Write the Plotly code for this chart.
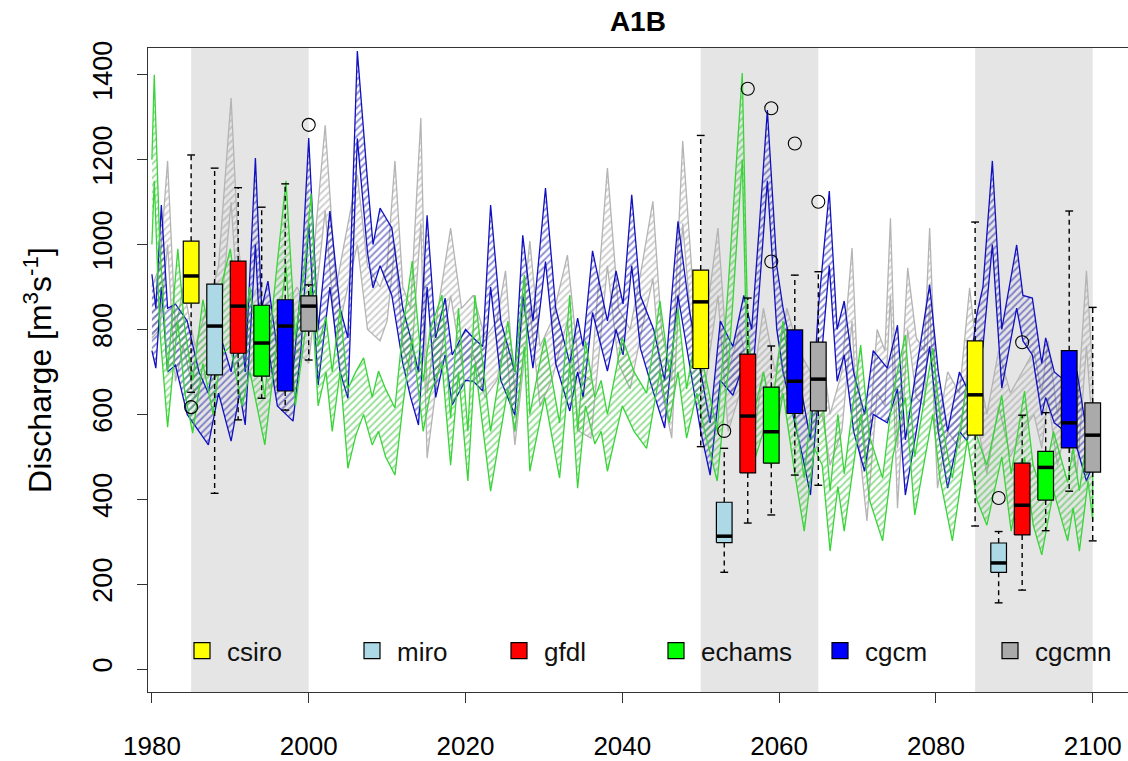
import plotly.graph_objects as go

# ---------------- data ----------------
models = ["csiro", "miro", "gfdl", "echams", "cgcm", "cgcmn"]
box_colors = ["#FFFF00", "#ADD8E6", "#FF0000", "#00FF00", "#0000FF", "#AAAAAA"]

period_start = [1985, 2050, 2085]
period_end = [2000, 2065, 2100]
box_offset = [0, 3, 6, 9, 12, 15]

# rows = models, columns = periods
whisker_low = [[652, 524, 337], [414, 228, 156], [587, 344, 186],
               [638, 363, 326], [610, 457, 419], [728, 433, 302]]
q1 = [[862, 708, 551], [693, 298, 228], [744, 462, 316],
      [690, 485, 398], [655, 602, 521], [796, 608, 464]]
median = [[926, 865, 646], [808, 313, 250], [855, 596, 386],
          [768, 559, 475], [808, 678, 580], [855, 683, 551]]
q3 = [[1008, 940, 773], [907, 393, 297], [961, 742, 485],
      [857, 664, 513], [870, 799, 750], [879, 770, 627]]
whisker_high = [[1211, 1257, 1053], [1180, 520, 324], [1134, 874, 598],
                [1088, 761, 604], [1143, 928, 1079], [905, 936, 852]]
outlier_model = ["csiro", "cgcmn", "miro", "gfdl", "echams", "echams", "cgcm", "cgcmn", "miro", "gfdl"]
outlier_period = [0, 0, 1, 1, 1, 1, 1, 1, 2, 2]
outlier_value = [617, 1282, 561, 1367, 1321, 960, 1238, 1101, 403, 770]

# hatched envelopes of the model runs
echams_years = [1980.0, 1980.3, 1981.0, 1982.0, 1983.3, 1984.2, 1985.2, 1986.5, 1987.8, 1988.8,
                1990.0, 1991.5, 1992.5, 1994.4, 1995.5, 1997.1, 1998.3, 1999.6, 2000.3, 2001.2,
                2002.2, 2003.0, 2004.0, 2005.0, 2006.0, 2007.0, 2008.1, 2008.9, 2009.8, 2011.0,
                2012.0, 2013.2, 2014.6, 2015.5, 2017.0, 2018.1, 2019.1, 2020.3, 2021.2, 2023.2,
                2025.4, 2026.3, 2027.5, 2028.2, 2030.1, 2032.0, 2033.3, 2034.3, 2035.3, 2036.5,
                2037.3, 2038.1, 2040.0, 2041.5, 2043.1, 2044.8, 2046.0, 2047.1, 2048.2, 2049.5,
                2050.5, 2052.1, 2053.5, 2055.3, 2056.0, 2057.0, 2058.0, 2059.0, 2060.5, 2062.0,
                2063.2, 2064.5, 2065.5, 2066.5, 2067.5, 2068.3, 2070.4, 2071.5, 2073.2, 2074.5,
                2076.1, 2077.3, 2079.6, 2080.5, 2082.1, 2084.0, 2085.2, 2086.5, 2088.4, 2089.6,
                2091.3, 2092.4, 2093.5, 2095.0, 2096.8, 2097.5, 2098.3, 2099.4, 2100.0]
echams_upper = [1200, 1400, 1000, 700, 990, 800, 680, 870, 750, 900,
                990, 780, 900, 640, 870, 1150, 780, 970, 1120, 760,
                830, 700, 850, 660, 700, 733, 640, 702, 660, 615,
                800, 961, 678, 800, 881, 591, 850, 560, 881, 560,
                820, 700, 928, 600, 780, 580, 881, 560, 773, 640,
                680, 600, 780, 700, 650, 867, 700, 850, 660, 800,
                700, 560, 900, 1404, 800, 620, 700, 600, 820, 600,
                450, 700, 650, 420, 600, 460, 763, 550, 450, 650,
                787, 500, 756, 600, 450, 678, 550, 480, 645, 460,
                655, 480, 420, 560, 440, 520, 420, 560, 480]
echams_lower = [1000, 1150, 800, 570, 820, 650, 556, 720, 600, 740,
                760, 620, 700, 528, 700, 950, 620, 800, 900, 620,
                700, 560, 700, 473, 550, 600, 528, 560, 500, 457,
                620, 780, 560, 650, 720, 480, 700, 443, 720, 419,
                660, 560, 760, 466, 640, 450, 720, 426, 620, 530,
                560, 466, 620, 560, 520, 700, 580, 700, 544, 650,
                560, 443, 700, 1200, 640, 500, 560, 480, 650, 460,
                325, 520, 480, 278, 430, 325, 600, 400, 302, 500,
                640, 363, 600, 450, 302, 540, 400, 339, 500, 325,
                500, 340, 269, 420, 302, 380, 278, 443, 350]

cgcm_years = [1980.0, 1980.5, 1981.2, 1982.0, 1983.0, 1984.5, 1986.0, 1987.2, 1988.5, 1990.1,
              1991.2, 1991.9, 1993.2, 1994.0, 1994.8, 1996.0, 1998.0, 1999.0, 2000.0, 2001.2,
              2002.7, 2004.0, 2005.0, 2006.2, 2007.5, 2008.2, 2009.1, 2010.6, 2012.0, 2013.0,
              2014.0, 2015.1, 2016.2, 2017.4, 2018.3, 2020.0, 2021.0, 2022.2, 2023.2, 2024.5,
              2026.3, 2027.3, 2028.6, 2030.2, 2031.5, 2033.3, 2034.3, 2035.0, 2036.2, 2038.1,
              2039.2, 2040.1, 2041.2, 2042.3, 2044.0, 2045.4, 2047.1, 2048.6, 2050.0, 2051.2,
              2052.5, 2054.1, 2055.5, 2056.5, 2057.5, 2058.5, 2059.7, 2060.5, 2062.0, 2063.0,
              2064.0, 2065.0, 2066.4, 2067.4, 2068.3, 2069.5, 2070.9, 2072.0, 2073.8, 2075.1,
              2076.1, 2077.5, 2079.2, 2080.3, 2081.5, 2083.0, 2084.0, 2085.2, 2086.0, 2087.2,
              2088.4, 2090.3, 2091.1, 2092.3, 2093.5, 2094.0, 2095.1, 2096.4, 2098.0, 2099.2,
              2100.0]
cgcm_upper = [930, 850, 1093, 850, 860, 820, 700, 650, 800, 700,
              850, 700, 1204, 850, 914, 750, 700, 900, 1251, 800,
              1079, 850, 780, 1456, 1150, 1000, 1086, 1039, 850, 780,
              700, 1069, 780, 874, 740, 800, 780, 760, 1093, 820,
              700, 1022, 820, 1133, 850, 720, 827, 760, 985, 820,
              938, 860, 1117, 880, 800, 680, 1055, 840, 700, 580,
              820, 760, 880, 800, 1050, 1317, 950, 850, 720, 640,
              540, 850, 1126, 800, 867, 700, 600, 750, 709, 810,
              540, 700, 905, 700, 560, 700, 660, 834, 900, 1197,
              800, 999, 880, 874, 720, 780, 700, 680, 700, 560,
              600]
cgcm_lower = [750, 709, 900, 700, 716, 600, 560, 528, 650, 537,
              650, 575, 1000, 700, 760, 620, 584, 750, 1050, 669,
              900, 700, 638, 1250, 980, 898, 950, 880, 720, 640,
              575, 900, 640, 740, 622, 680, 678, 655, 900, 680,
              598, 880, 709, 960, 720, 608, 700, 640, 840, 702,
              800, 740, 950, 756, 650, 568, 880, 716, 560, 457,
              680, 645, 720, 660, 900, 1150, 800, 700, 580, 500,
              410, 650, 950, 678, 740, 560, 466, 600, 580, 660,
              410, 560, 760, 560, 426, 560, 537, 700, 760, 1000,
              662, 850, 773, 740, 598, 640, 580, 561, 520, 443,
              480]

cgcmn_years = [1980.0, 1981.0, 1982.0, 1983.0, 1984.0, 1985.5, 1987.0, 1988.5, 1990.1, 1991.0,
               1992.0, 1993.5, 1995.0, 1997.0, 1998.5, 2000.0, 2002.1, 2003.5, 2004.5, 2006.2,
               2007.5, 2009.1, 2010.0, 2011.0, 2012.0, 2013.0, 2014.3, 2015.1, 2016.5, 2018.1,
               2019.5, 2021.0, 2022.5, 2024.0, 2025.1, 2026.3, 2028.2, 2029.5, 2031.0, 2033.0,
               2034.5, 2036.0, 2038.1, 2039.5, 2041.0, 2042.5, 2043.9, 2045.0, 2046.3, 2047.7,
               2049.0, 2050.5, 2052.2, 2053.5, 2055.0, 2056.5, 2058.0, 2059.5, 2061.0, 2062.5,
               2064.0, 2065.5, 2066.5, 2068.0, 2069.3, 2070.0, 2071.2, 2072.5, 2073.5, 2074.2,
               2075.1, 2076.4, 2077.5, 2078.5, 2079.2, 2080.2, 2081.5, 2083.0, 2084.3, 2085.5,
               2086.5, 2088.0, 2089.5, 2091.0, 2092.5, 2093.5, 2094.3, 2095.5, 2096.5, 2098.0,
               2099.2, 2100.0]
cgcmn_upper = [900, 950, 1197, 800, 900, 760, 850, 950, 1345, 1000,
               850, 900, 800, 850, 900, 850, 1281, 900, 1000, 1164,
               950, 900, 950, 1197, 900, 850, 1298, 650, 850, 1039,
               850, 881, 780, 820, 938, 650, 1008, 760, 820, 975,
               700, 680, 1180, 850, 800, 950, 1102, 800, 680, 1244,
               900, 800, 1039, 700, 800, 650, 850, 700, 850, 750,
               700, 750, 600, 700, 992, 700, 480, 800, 750, 1062,
               520, 945, 780, 750, 1039, 560, 700, 650, 898, 700,
               600, 750, 650, 700, 750, 650, 773, 600, 700, 600,
               938, 700]
cgcmn_lower = [780, 800, 1000, 678, 760, 640, 700, 780, 1100, 850,
               700, 760, 660, 700, 750, 720, 1080, 760, 860, 1000,
               800, 773, 820, 1000, 760, 700, 1050, 497, 700, 880,
               720, 740, 640, 680, 780, 528, 850, 620, 680, 820,
               560, 544, 950, 720, 660, 800, 920, 660, 544, 1050,
               760, 660, 880, 560, 650, 520, 700, 580, 700, 620,
               560, 600, 480, 560, 820, 560, 349, 650, 620, 880,
               379, 800, 640, 620, 860, 426, 560, 520, 760, 560,
               460, 620, 500, 560, 600, 520, 640, 480, 560, 460,
               760, 560]

band_names = ["cgcmn", "cgcm", "echams"]
band_years = [cgcmn_years, cgcm_years, echams_years]
band_upper = [cgcmn_upper, cgcm_upper, echams_upper]
band_lower = [cgcmn_lower, cgcm_lower, echams_lower]
band_line_colors = ["#B4B4B4", "#1010C0", "#38D438"]
band_hatch_colors = ["#A0A0A0", "#2020A8", "#38C038"]

x_ticks = [1980, 2000, 2020, 2040, 2060, 2080, 2100]
y_ticks = [0, 200, 400, 600, 800, 1000, 1200, 1400]

# ---------------- style ----------------
BOX_W = 2.0
CAP_W = 1.0
FONT = "Liberation Sans, Arial, sans-serif"
PLOT_L, PLOT_W = 148, 980
legend_symbol_px = [202, 372, 519, 676, 840, 1010]   # legend key centres (px)

fig = go.Figure()

# shaded reference periods
for s, e in zip(period_start, period_end):
    fig.add_shape(type="rect", xref="x", yref="paper", x0=s, x1=e, y0=0, y1=1,
                  fillcolor="#E5E5E5", line=dict(width=0), layer="below")

# hatched envelopes
for name, yrs, up, lo, lc, hc in zip(band_names, band_years, band_upper, band_lower,
                                     band_line_colors, band_hatch_colors):
    fig.add_trace(go.Scatter(
        x=list(yrs) + list(yrs)[::-1],
        y=list(up) + list(lo)[::-1],
        mode="lines", fill="toself",
        line=dict(color=lc, width=1.3),
        fillcolor="rgba(255,255,255,0)",
        fillpattern=dict(shape="/", fgcolor=hc, bgcolor="rgba(255,255,255,0)",
                         size=5, solidity=0.4),
        showlegend=False, hoverinfo="skip", name=name + " range"))

# boxplots
for i, (m, col) in enumerate(zip(models, box_colors)):
    bx, by = [], []
    wx, wy = [], []
    cx, cy = [], []
    mx, my = [], []
    for p in range(len(period_start)):
        pos = period_start[p] + box_offset[i]
        bx += [pos - BOX_W / 2, pos + BOX_W / 2, pos + BOX_W / 2, pos - BOX_W / 2, pos - BOX_W / 2, None]
        by += [q1[i][p], q1[i][p], q3[i][p], q3[i][p], q1[i][p], None]
        wx += [pos, pos, None, pos, pos, None]
        wy += [q3[i][p], whisker_high[i][p], None, q1[i][p], whisker_low[i][p], None]
        cx += [pos - CAP_W / 2, pos + CAP_W / 2, None, pos - CAP_W / 2, pos + CAP_W / 2, None]
        cy += [whisker_high[i][p], whisker_high[i][p], None, whisker_low[i][p], whisker_low[i][p], None]
        mx += [pos - BOX_W / 2, pos + BOX_W / 2, None]
        my += [median[i][p], median[i][p], None]
    fig.add_trace(go.Scatter(x=wx, y=wy, mode="lines",
                             line=dict(color="black", width=1.4, dash="5px,4px"),
                             showlegend=False, hoverinfo="skip"))
    fig.add_trace(go.Scatter(x=cx, y=cy, mode="lines",
                             line=dict(color="black", width=1.4),
                             showlegend=False, hoverinfo="skip"))
    fig.add_trace(go.Scatter(x=bx, y=by, mode="lines", fill="toself", fillcolor=col,
                             line=dict(color="black", width=1.2),
                             showlegend=False, hoverinfo="skip", name=m))
    fig.add_trace(go.Scatter(x=mx, y=my, mode="lines",
                             line=dict(color="black", width=3.5),
                             showlegend=False, hoverinfo="skip"))

# outliers
ox = [period_start[p] + box_offset[models.index(m)] for m, p in zip(outlier_model, outlier_period)]
fig.add_trace(go.Scatter(x=ox, y=outlier_value, mode="markers",
                         marker=dict(symbol="circle-open", size=13, color="black",
                                     line=dict(width=1.1, color="black")),
                         showlegend=False, hoverinfo="skip"))

# legend entries: one single-item legend per model, laid out in a row
legend_layout = {}
for k, (m, col, sx) in enumerate(zip(models, box_colors, legend_symbol_px)):
    lname = "legend" if k == 0 else "legend%d" % (k + 1)
    fig.add_trace(go.Scatter(x=[None], y=[None], mode="markers", name=m, legend=lname,
                             marker=dict(symbol="square", size=17, color=col,
                                         line=dict(color="black", width=1.2))))
    legend_layout[lname] = dict(x=(sx - 25 - PLOT_L) / PLOT_W, y=0.064,
                                xanchor="left", yanchor="middle",
                                bgcolor="rgba(0,0,0,0)", borderwidth=0, itemwidth=40,
                                font=dict(size=26, family=FONT, color="#111"),
                                itemclick=False, itemdoubleclick=False)

fig.update_layout(
    width=1128, height=761,
    margin=dict(l=PLOT_L, r=0, t=48, b=69, autoexpand=False),
    paper_bgcolor="white", plot_bgcolor="white",
    font=dict(family=FONT, size=26, color="black"),
    title=dict(text="<b>A1B</b>", x=0.5655, xanchor="center", y=0.972, yanchor="middle",
               font=dict(size=28, family=FONT, color="black")),
    showlegend=True,
    xaxis=dict(range=[1979.5, 2104.5], tickvals=x_ticks, ticks="outside", ticklen=10,
               tickcolor="#333", showline=True, linecolor="#333", linewidth=1.3, mirror=True,
               showgrid=False, zeroline=False, ticklabelstandoff=21,
               tickfont=dict(size=26), automargin=False),
    yaxis=dict(range=[-54, 1463], tickvals=y_ticks, ticks="outside", ticklen=10,
               tickcolor="#333", showline=True, linecolor="#333", linewidth=1.3, mirror=False,
               showgrid=False, zeroline=False, tickangle=-90, ticklabelstandoff=14,
               tickfont=dict(size=27),
               title=dict(text="Discharge [m<sup>3</sup>s<sup>-1</sup>]", standoff=26,
                          font=dict(size=32)),
               automargin=False),
    **legend_layout,
)

fig.write_html("out.html")
